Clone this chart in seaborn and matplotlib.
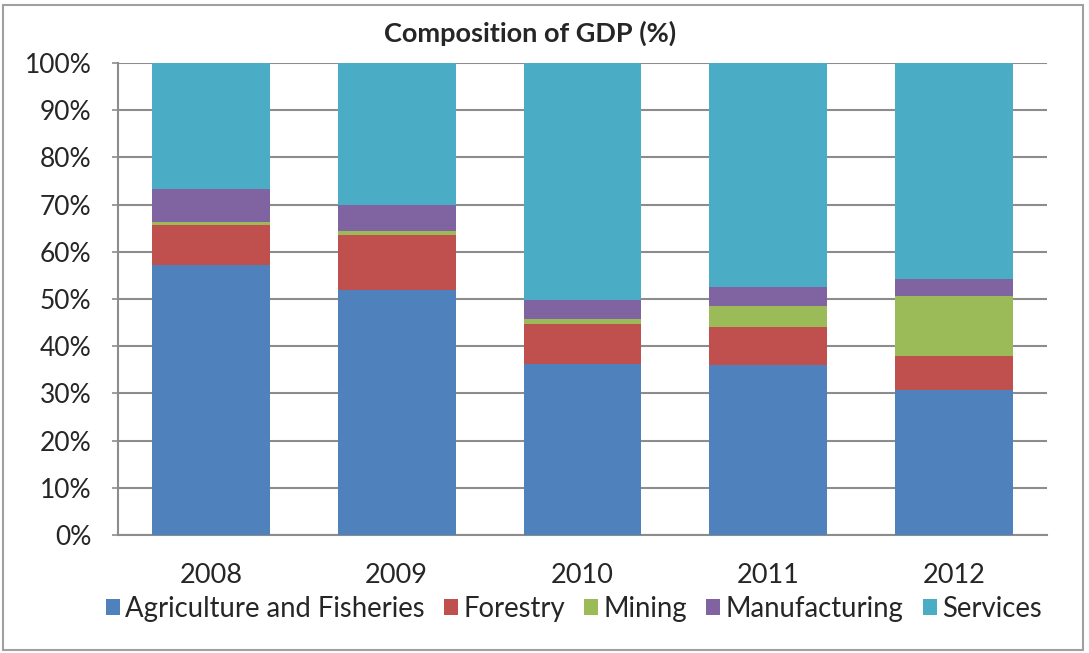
import numpy as np
import pandas as pd
import matplotlib
matplotlib.use('Agg')
import matplotlib.pyplot as plt
import seaborn as sns
from matplotlib.patches import Rectangle
from matplotlib.ticker import PercentFormatter

years = ['2008', '2009', '2010', '2011', '2012']
agriculture = [57.2, 51.9, 36.2, 36.0, 30.7]
forestry = [8.5, 11.7, 8.5, 8.0, 7.3]
mining = [0.7, 0.9, 1.1, 4.6, 12.7]
manufacturing = [7.0, 5.4, 4.0, 3.9, 3.5]
services = [26.6, 30.1, 50.2, 47.5, 45.8]

sectors = ['Agriculture and Fisheries', 'Forestry', 'Mining', 'Manufacturing', 'Services']
colors = ['#4F81BD', '#C0504D', '#9BBB59', '#8064A2', '#4BACC6']

gdp = pd.DataFrame({'Year': years,
                    'Agriculture and Fisheries': agriculture,
                    'Forestry': forestry,
                    'Mining': mining,
                    'Manufacturing': manufacturing,
                    'Services': services})

sns.set_style('white')
plt.rcParams['font.family'] = ['Lato', 'DejaVu Sans']

fig = plt.figure(figsize=(10.89, 6.53), dpi=100)
ax = fig.add_axes([118 / 1089, 1 - 535 / 653, 929 / 1089, 472 / 653])

# stacked bars, one seaborn call per sector
bottom = np.zeros(len(years))
for name, col in zip(sectors, colors):
    sns.barplot(x='Year', y=name, data=gdp, color=col, width=0.635,
                bottom=bottom, label=name, ax=ax, saturation=1, zorder=3,
                linewidth=0, edgecolor='none')
    bottom = bottom + gdp[name].values

ax.set_ylim(0, 100)
ax.set_xlim(-0.5, 4.5)
ax.set_yticks(np.arange(0, 101, 10))
ax.yaxis.set_major_formatter(PercentFormatter(decimals=0))
ax.set_xlabel('')
ax.set_ylabel('')
ax.grid(axis='y', color='#8c8c8c', linewidth=1.5, zorder=0)
ax.set_axisbelow(True)
for s in ['top', 'right']:
    ax.spines[s].set_visible(False)
for s in ['left', 'bottom']:
    ax.spines[s].set_color('#8c8c8c')
    ax.spines[s].set_linewidth(1.5)
ax.tick_params(axis='y', labelsize=19, length=4, width=1.2, color='#8c8c8c',
               direction='out', left=True, pad=15)
ax.tick_params(axis='x', labelsize=19.5, length=0, pad=20)

fig.text(0.487, 1 - 33 / 653, 'Composition of GDP (%)', ha='center', va='center',
         fontsize=19.5, fontweight='bold')

handles, labels = ax.get_legend_handles_labels()
ax.legend(handles, labels, ncol=5, loc='center', bbox_to_anchor=(0.527, 1 - 609 / 653),
          bbox_transform=fig.transFigure, frameon=False, fontsize=19.8,
          handlelength=0.5, handleheight=0.5, handletextpad=0.2, columnspacing=0.7)

fig.patches.append(Rectangle((3 / 1089, 3 / 653), 1080 / 1089, 645 / 653,
                             transform=fig.transFigure, fill=False,
                             edgecolor='#a0a0a0', linewidth=1.5))

fig.savefig('out.png', dpi=100)
